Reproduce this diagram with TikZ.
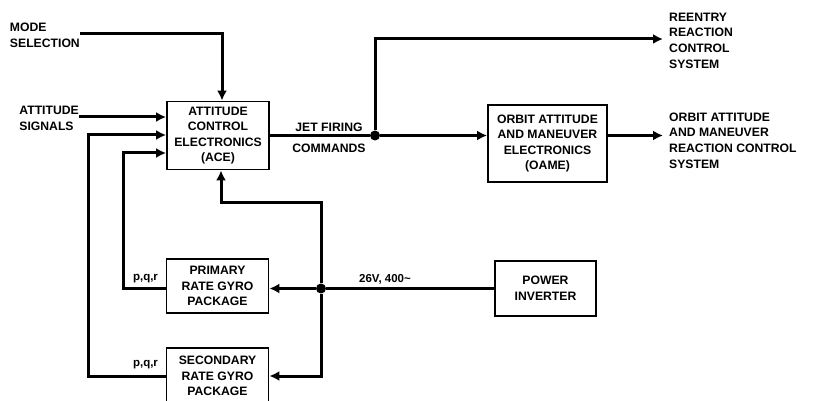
\documentclass[tikz,border=0pt]{standalone}
\usepackage{fontspec}
\setmainfont{Liberation Sans}
\usetikzlibrary{arrows.meta,calc}
\tikzset{
  blk/.style={draw, line width=1.8pt, minimum width=102pt, align=center, inner sep=1pt,
    font=\bfseries\fontsize{12.2}{15.6}\selectfont},
  lbl/.style={align=left, inner sep=0pt, font=\bfseries\fontsize{12.2}{15.6}\selectfont},
  small/.style={inner sep=0pt, font=\bfseries\fontsize{11.5}{13}\selectfont},
  wire/.style={line width=3pt},
  arr/.style={wire, -{Latex[length=10pt,width=10pt]}},
  dot/.style={circle, fill, inner sep=0pt, minimum size=10pt}
}
\begin{document}
\begin{tikzpicture}[x=1pt,y=-1pt]
\useasboundingbox[fill=white] (0,0) rectangle (814,401);
% blocks
\node[blk, minimum height=68pt] (ace) at (218,135.5) {ATTITUDE\\CONTROL\\ELECTRONICS\\(ACE)};
\node[blk, minimum width=119pt, minimum height=77pt] (oame) at (547.5,143.5) {ORBIT ATTITUDE\\AND MANEUVER\\ELECTRONICS\\(OAME)};
\node[blk, minimum height=54pt] (prim) at (217.5,286) {PRIMARY\\RATE GYRO\\PACKAGE};
\node[blk, minimum height=56pt] (sec) at (217.5,376) {SECONDARY\\RATE GYRO\\PACKAGE};
\node[blk, minimum width=101pt, minimum height=55pt] (pinv) at (545.5,288.5) {POWER\\INVERTER};
% labels
\node[lbl, anchor=east] (mode) at (80,35.5) {MODE\\SELECTION};
\node[lbl, anchor=east] (att) at (79,118.5) {ATTITUDE\\SIGNALS};
\node[lbl, anchor=west] (reentry) at (669,40.5) {REENTRY\\REACTION\\CONTROL\\SYSTEM};
\node[lbl, anchor=west] (orcs) at (669,140.5) {ORBIT ATTITUDE\\AND MANEUVER\\REACTION CONTROL\\SYSTEM};
\node[lbl] (jet1) at (329,127.5) {JET FIRING};
\node[lbl] (jet2) at (329,148) {COMMANDS};
\node[small] (pqr1) at (145.5,279) {p,q,r};
\node[small] (pqr2) at (145.5,365) {p,q,r};
\node[small] (volt) at (385,279) {26V, 400\textasciitilde};
% junctions
\node[dot] (jn) at (375,135.5) {};
\node[dot] (pj) at (321,288.5) {};
\coordinate (reend) at (663,39);
\coordinate (oaend) at (663,135.5);
\coordinate (up) at (321,202);
% connectors
\draw[arr] (mode.east |- 0,34) -| ($(ace.north)+(4,0)$);
\draw[arr] (att.east |- 0,117) -- ($(ace.west)+(0,-18.5)$);
\draw[arr] (sec.west) -- ++(-77,0) |- ($(ace.west)+(0,-0.5)$);
\draw[arr] (prim.west |- pj) -- ++(-42,0) |- ($(ace.west)+(0,17.5)$);
\draw[wire] (ace.east) -- (jn);
\draw[arr] (jn) |- (reend);
\draw[arr] (jn) -- (jn -| oame.west);
\draw[arr] (oame.east |- jn) -- (oaend);
\draw[wire] (pinv.west) -- (pj);
\draw[arr] (pj) -- (pj -| prim.east);
\draw[arr] (pj) |- (sec.east);
\draw[arr] (pj) -- (up) -| ($(ace.south)+(3,0)$);
\end{tikzpicture}
\end{document}
